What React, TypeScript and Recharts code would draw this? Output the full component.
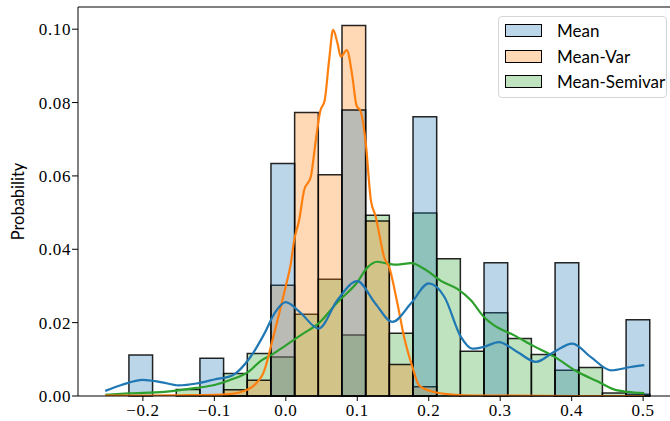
import React from 'react';
import { ComposedChart, Line, XAxis, YAxis, ReferenceArea, ReferenceLine, Legend } from 'recharts';

// Histogram bin edges (23 common bins)
const binEdges = [
  -0.2527, -0.21957, -0.18644, -0.15331, -0.12018, -0.08705, -0.05392, -0.02079,
  0.01234, 0.04547, 0.0786, 0.11173, 0.14486, 0.17799, 0.21112, 0.24425,
  0.27738, 0.31051, 0.34364, 0.37677, 0.4099, 0.44303, 0.47616, 0.50929,
];

// Probability per bin
const meanProb = [
  0, 0.0112, 0, 0, 0.0103, 0, 0, 0.0634, 0, 0, 0.078, 0,
  0, 0.0761, 0, 0, 0.0363, 0, 0, 0.0363, 0, 0, 0.0208,
];
const meanVarProb = [
  0, 0, 0, 0, 0, 0.0017, 0.0043, 0.0302, 0.0773, 0.0603, 0.101, 0.0477,
  0.0086, 0.0025, 0, 0, 0, 0, 0, 0, 0, 0, 0,
];
const meanSemivarProb = [
  0, 0, 0, 0.0018, 0, 0.0061, 0.0116, 0.0106, 0.0223, 0.0318, 0.0166, 0.0493,
  0.0171, 0.0499, 0.0374, 0.0122, 0.0227, 0.0157, 0.0113, 0.007, 0.0078, 0.0008, 0.0005,
];

// KDE curves
const meanKdeX = [
  -0.2527, -0.23, -0.2, -0.175, -0.15, -0.125, -0.1, -0.075, -0.05, -0.03, -0.015, 0.0,
  0.02, 0.046, 0.072, 0.1, 0.125, 0.149, 0.175, 0.2, 0.222, 0.245, 0.261, 0.277,
  0.298, 0.324, 0.35, 0.375, 0.401, 0.427, 0.455, 0.4825, 0.5016,
];
const meanKdeY = [
  0.0014, 0.003, 0.0044, 0.0038, 0.0029, 0.0034, 0.0045, 0.0056, 0.0105, 0.017, 0.0228, 0.0256,
  0.0228, 0.0184, 0.0261, 0.0313, 0.0253, 0.0202, 0.0252, 0.0307, 0.027, 0.0161, 0.0129, 0.0134,
  0.0147, 0.012, 0.0093, 0.012, 0.0143, 0.0106, 0.007, 0.0079, 0.0084,
];

const meanVarKdeX = [
  -0.2527, -0.2, -0.15, -0.1, -0.08, -0.063, -0.044, -0.03, -0.021, -0.0164, -0.007, 0.0,
  0.007, 0.0117, 0.0186, 0.0256, 0.035, 0.042, 0.048, 0.0545, 0.0606, 0.0662, 0.0723, 0.0769,
  0.0853, 0.0932, 0.0988, 0.1049, 0.1119, 0.119, 0.1259, 0.1315, 0.1375, 0.1445, 0.1562, 0.1655,
  0.1772, 0.1865, 0.2075, 0.226, 0.25, 0.3, 0.4, 0.5016,
];
const meanVarKdeY = [
  0.0001, 0.0001, 0.0002, 0.0003, 0.0005, 0.0011, 0.003, 0.007, 0.0134, 0.017, 0.0243, 0.03,
  0.0361, 0.0425, 0.0479, 0.0561, 0.0598, 0.0698, 0.0775, 0.0807, 0.0916, 0.0998, 0.0962, 0.0925,
  0.0943, 0.087, 0.0793, 0.0775, 0.0689, 0.0534, 0.0488, 0.0434, 0.0379, 0.0352, 0.0252, 0.0161,
  0.0079, 0.0029, 0.0011, 0.0005, 0.0002, 0.0001, 0.0, 0.0,
];

const meanSemivarKdeX = [
  -0.2527, -0.22, -0.17, -0.126, -0.1, -0.079, -0.051, -0.035, -0.02, 0.0, 0.021, 0.047,
  0.072, 0.1, 0.114, 0.128, 0.142, 0.156, 0.175, 0.194, 0.217, 0.24, 0.259, 0.277,
  0.291, 0.319, 0.347, 0.375, 0.408, 0.436, 0.459, 0.478, 0.5016,
];
const meanSemivarKdeY = [
  0.0003, 0.0007, 0.0011, 0.0022, 0.003, 0.0043, 0.0068, 0.0096, 0.0112, 0.0138, 0.0166, 0.02,
  0.0255, 0.031, 0.035, 0.0366, 0.0361, 0.0358, 0.0362, 0.0346, 0.0314, 0.0292, 0.0261, 0.0216,
  0.0193, 0.0166, 0.0136, 0.0108, 0.0066, 0.004, 0.0018, 0.0011, 0.0008,
];

const xTicks = [-0.2, -0.1, 0, 0.1, 0.2, 0.3, 0.4, 0.5];
const yTicks = [0, 0.02, 0.04, 0.06, 0.08, 0.1];
const xDomain = [-0.2908, 0.5474];
const yDomain = [0, 0.10605];

const seriesNames = ['Mean', 'Mean-Var', 'Mean-Semivar'];
const seriesColors = ['#1f77b4', '#ff7f0e', '#2ca02c'];
const seriesFills = ['rgba(31,119,180,0.3)', 'rgba(255,127,14,0.3)', 'rgba(44,160,44,0.3)'];

const histograms = [meanProb, meanVarProb, meanSemivarProb];
const kdes = [
  meanKdeX.map((x, i) => ({ x, y: meanKdeY[i] })),
  meanVarKdeX.map((x, i) => ({ x, y: meanVarKdeY[i] })),
  meanSemivarKdeX.map((x, i) => ({ x, y: meanSemivarKdeY[i] })),
];

const serif = "Liberation Serif, DejaVu Serif, serif";
const sans = "Lato, 'Open Sans', sans-serif";

const fmtX = (v: number) => {
  const s = Math.abs(v).toFixed(1);
  return v < -1e-9 ? '\u2212' + s : s;
};
const fmtY = (v: number) => v.toFixed(2);

const XTick = (props: any) => {
  const { x, y, payload } = props;
  return (
    <text x={x} y={y} dy={12} textAnchor="middle" style={{ fontFamily: serif, fontSize: 17, letterSpacing: 0.6 }} fill="#000">
      {fmtX(payload.value)}
    </text>
  );
};

const YTick = (props: any) => {
  const { x, y, payload } = props;
  return (
    <text x={x} y={y} dy={6} textAnchor="end" style={{ fontFamily: serif, fontSize: 17, letterSpacing: 0.6 }} fill="#000">
      {fmtY(payload.value)}
    </text>
  );
};

const YLabel = (props: any) => {
  const vb = props.viewBox || { x: 0, y: 7, width: 78, height: 389 };
  const cx = (vb.x ?? 0) + 18;
  const cy = (vb.y ?? 7) + (vb.height ?? 389) / 2;
  return (
    <text
      x={cx}
      y={cy}
      transform={`rotate(-90 ${cx} ${cy})`}
      textAnchor="middle"
      dominantBaseline="central"
      style={{ fontFamily: sans, fontSize: 16.5 }}
      fill="#000"
    >
      Probability
    </text>
  );
};

const LegendBox = () => (
  <div
    style={{
      width: 169,
      height: 82,
      boxSizing: 'border-box',
      border: '1px solid #d6d6d6',
      borderRadius: 4,
      background: 'rgba(255,255,255,0.8)',
      position: 'relative',
      fontFamily: sans,
      fontSize: 17,
      color: '#000',
    }}
  >
    {seriesNames.map((n, i) => (
      <div
        key={n}
        style={{
          position: 'absolute',
          left: 6,
          top: 7 + i * 25.5,
          height: 13,
          display: 'flex',
          alignItems: 'center',
          whiteSpace: 'nowrap',
        }}
      >
        <span
          style={{
            display: 'inline-block',
            width: 37,
            height: 13,
            boxSizing: 'border-box',
            border: '1.5px solid #000',
            background: seriesFills[i],
          }}
        />
        <span style={{ marginLeft: 15, lineHeight: '13px' }}>{n}</span>
      </div>
    ))}
  </div>
);

export default function App() {
  // draw order: Mean-Semivar (bottom), Mean-Var, Mean (top)
  const order = [2, 1, 0];
  return (
    <div style={{ position: 'absolute', left: 0, top: 0, width: 670, height: 421, overflow: 'hidden', background: '#fff' }}>
      <ComposedChart width={691} height={421} margin={{ top: 7, right: 14, left: 0, bottom: 0 }}>
        <XAxis
          dataKey="x"
          type="number"
          domain={xDomain}
          ticks={xTicks}
          allowDataOverflow
          height={25}
          stroke="#000"
          tickSize={5}
          tickMargin={3}
          tick={<XTick />}
          interval={0}
        />
        <YAxis
          type="number"
          domain={yDomain}
          ticks={yTicks}
          allowDataOverflow
          width={78}
          stroke="#000"
          tickSize={6}
          tickMargin={1}
          tick={<YTick />}
          interval={0}
          label={<YLabel />}
        />
        {order.map((s) =>
          histograms[s].map((v, i) =>
            v > 0 ? (
              <ReferenceArea
                key={`h-${s}-${i}`}
                x1={binEdges[i]}
                x2={binEdges[i + 1]}
                y1={0}
                y2={v}
                fill={seriesFills[s]}
                fillOpacity={1}
                stroke="#000"
                strokeOpacity={0.85}
                strokeWidth={1.5}
                ifOverflow="visible"
              />
            ) : null
          )
        )}
        {order.map((s) => (
          <Line
            key={`k-${s}`}
            data={kdes[s]}
            dataKey="y"
            type="monotone"
            stroke={seriesColors[s]}
            strokeWidth={2.2}
            dot={false}
            activeDot={false}
            isAnimationActive={false}
          />
        ))}
        <ReferenceLine y={yDomain[1]} stroke="#000" strokeWidth={1} ifOverflow="visible" />
        <ReferenceLine x={xDomain[1]} stroke="#000" strokeWidth={1} ifOverflow="visible" />
        <Legend
          layout="vertical"
          align="center"
          verticalAlign="middle"
          content={<LegendBox />}
          wrapperStyle={{ left: 498, top: 16, width: 169, height: 82 }}
        />
      </ComposedChart>
    </div>
  );
}
